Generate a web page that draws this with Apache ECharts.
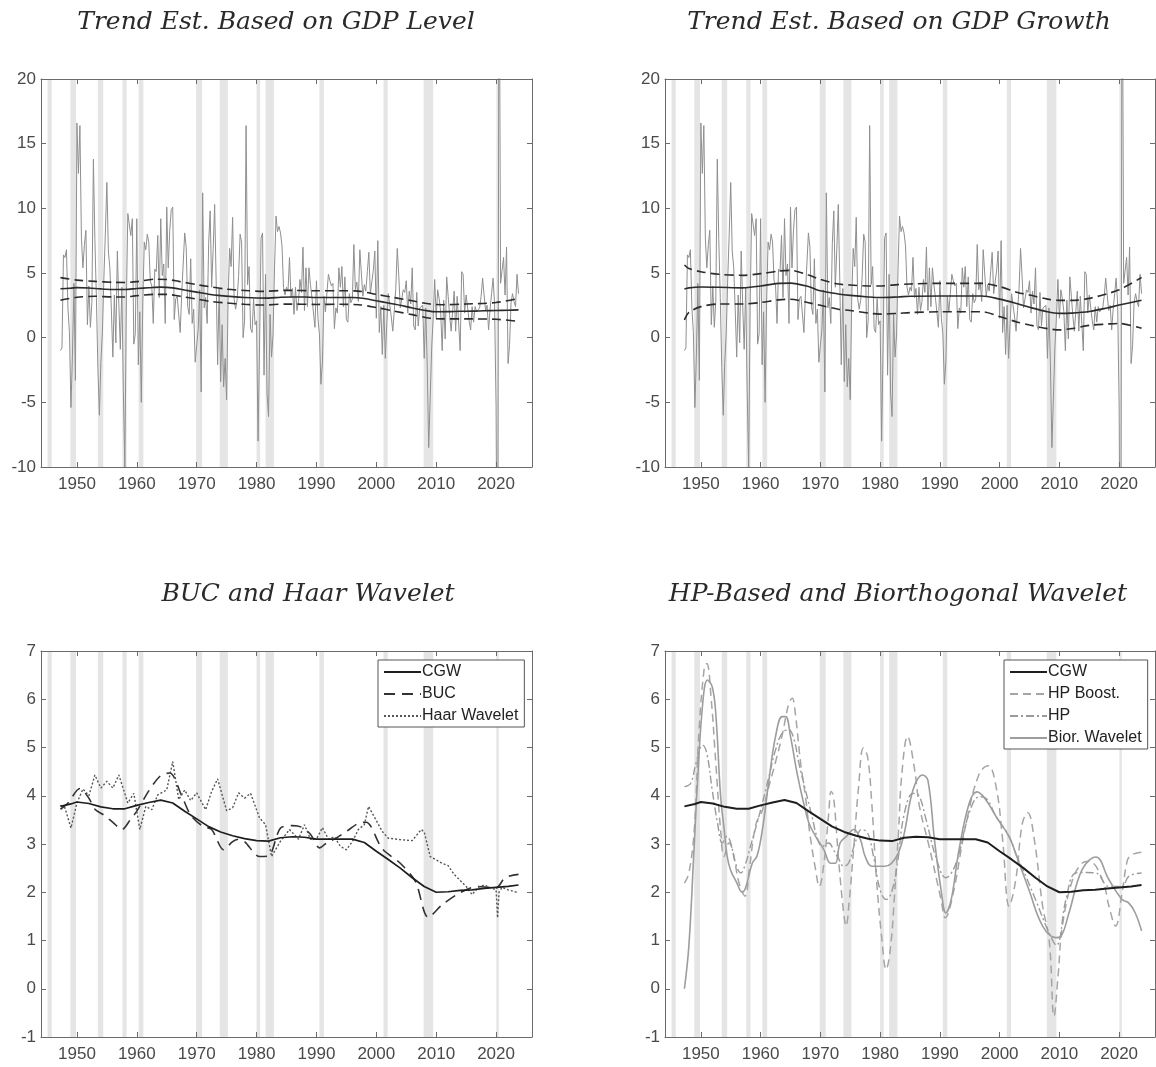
<!DOCTYPE html>
<html>
<head>
<meta charset="utf-8">
<script src="https://cdn.jsdelivr.net/npm/echarts@6/dist/echarts.min.js"></script>
<style>
  html, body { margin: 0; padding: 0; background: #fff; }
  #chart { width: 1156px; height: 1067px; }
</style>
</head>
<body>
<div id="chart"></div>
<script>
// ---- Real GDP growth, quarterly, annualised (%), 1947Q2 .. 2023Q4 ----
const gdpStart = 1947.25;
const gdpGrowth = [
  -1.0, -0.8, 6.4,
  6.2, 6.8, 2.3, 0.4,
  -5.4, -1.4, 4.2, -3.3,
  16.6, 12.7, 16.4, 7.7,
  5.4, 7.2, 8.3, 1.0,
  4.0, 0.8, 2.8, 13.8,
  7.6, 3.1, -2.3, -6.0,
  -1.9, 0.4, 4.6, 8.1,
  12.0, 6.7, 5.4, 2.2,
  -1.5, 3.3, -0.4, 6.7,
  2.6, -0.9, 3.9, -4.1,
  -10.0, 2.6, 9.6, 9.5,
  7.9, 9.2, -0.5, 0.3,
  9.2, -2.1, 2.0, -5.0,
  2.7, 7.4, 6.8, 8.0,
  7.4, 4.4, 4.0, 1.1,
  5.3, 5.1, 7.9, 3.1,
  9.2, 4.8, 5.7, 1.1,
  10.1, 5.4, 8.3, 9.9,
  10.1, 1.4, 3.0, 3.2,
  3.3, 0.4, 3.4, 3.3,
  8.1, 7.0, 2.4, 1.8,
  6.1, 1.1, 2.2, -1.9,
  -0.6, 0.6, 3.7, -4.2,
  11.2, 2.3, 3.1, 1.1,
  7.3, 9.8, 3.9, 6.8,
  10.3, 4.4, -2.1, 3.8,
  -3.4, 1.0, -3.8, -1.6,
  -4.8, 3.1, 6.9, 5.5,
  9.3, 3.0, 2.2, 2.9,
  4.8, 8.0, 7.4, 0.0,
  1.3, 16.4, 4.1, 5.5,
  0.7, 0.4, 3.0, 1.0,
  1.3, -8.0, -0.5, 7.7,
  8.1, -2.9, 4.9, -4.3,
  -6.1, 1.8, -1.5, 0.2,
  5.4, 9.4, 8.2, 8.6,
  8.1, 7.1, 3.9, 3.3,
  3.9, 3.6, 6.2, 3.1,
  3.8, 1.8, 3.9, 2.1,
  2.8, 4.5, 3.5, 7.0,
  2.1, 5.4, 2.4, 5.4,
  4.1, 3.1, 3.0, 0.8,
  4.4, 1.5, 0.3, -3.6,
  -1.9, 3.2, 2.0, 1.9,
  4.9, 4.4, 4.0, 4.2,
  0.7, 2.3, 1.9, 5.4,
  3.9, 5.5, 2.4, 4.7,
  1.4, 1.2, 3.4, 2.7,
  3.0, 7.2, 3.7, 4.3,
  2.8, 6.8, 5.0, 3.2,
  4.1, 3.6, 5.1, 6.6,
  3.4, 3.3, 5.2, 6.7,
  1.5, 7.5, 0.4, 2.4,
  -1.3, 2.5, -1.6, 1.1,
  3.4, 2.5, 1.6, 0.5,
  2.1, 3.8, 6.9, 4.8,
  2.3, 3.0, 3.7, 3.5,
  4.4, 1.9, 3.6, 2.6,
  5.4, 0.9, 0.6, 3.5,
  0.9, 2.3, 2.2, 2.5,
  -1.6, 2.3, -2.1, -8.5,
  -4.6, -0.7, 1.5, 4.5,
  1.5, 3.7, 3.0, 2.0,
  -1.0, 2.9, -0.1, 4.7,
  3.2, 1.7, 0.5, 0.5,
  3.6, 0.5, 3.2, 3.2,
  -1.0, 5.1, 4.9, 1.9,
  3.3, 2.3, 1.3, 0.6,
  2.4, 1.2, 2.4, 2.0,
  2.0, 2.3, 3.2, 4.6,
  3.3, 2.1, 2.5, 0.6,
  2.2, 3.4, 4.6, 2.6,
  -5.3, -28.0, 34.8, 4.2,
  5.2, 6.2, 3.3, 7.0,
  -2.0, -0.6, 2.7, 3.4,
  2.8, 2.4, 4.9, 3.4
];

// ---- NBER recession periods (decimal years) ----
const recessionStart = [1945.1, 1948.9, 1953.5, 1957.6, 1960.3, 1969.9, 1973.85, 1980.0, 1981.5, 1990.5, 2001.2, 2007.9, 2020.05];
const recessionEnd   = [1945.8, 1949.85, 1954.4, 1958.3, 1961.1, 1970.9, 1975.2, 1980.6, 1982.9, 1991.25, 2001.9, 2009.5, 2020.45];

// ---- CGW trend (level-based) ----
const cgwYears = [1947.25, 1949, 1950, 1952, 1954, 1956, 1958, 1960, 1962, 1964, 1966, 1968, 1970, 1972, 1974, 1976, 1978, 1980, 1982, 1984, 1986, 1988, 1990, 1992, 1994, 1996, 1998, 2000, 2002, 2004, 2006, 2008, 2010, 2012, 2014, 2016, 2018, 2020, 2022, 2023.75];
const cgwTrend = [3.78, 3.83, 3.87, 3.84, 3.77, 3.73, 3.73, 3.8, 3.86, 3.91, 3.85, 3.68, 3.52, 3.36, 3.25, 3.17, 3.11, 3.07, 3.06, 3.13, 3.15, 3.14, 3.1, 3.1, 3.1, 3.1, 3.03, 2.85, 2.68, 2.5, 2.3, 2.12, 2.0, 2.01, 2.04, 2.05, 2.08, 2.1, 2.12, 2.15];

// ---- Confidence bands, level-based estimate ----
const levelBandYears = [1947.25, 1950, 1953, 1956, 1958, 1960, 1963, 1965, 1967, 1970, 1972, 1975, 1978, 1981, 1985, 1990, 1994, 1997, 2000, 2003, 2006, 2009, 2011, 2015, 2020, 2023.75];
const levelUpper = [4.64, 4.45, 4.35, 4.28, 4.27, 4.33, 4.52, 4.5, 4.35, 4.1, 3.95, 3.75, 3.65, 3.58, 3.66, 3.63, 3.63, 3.6, 3.35, 3.1, 2.85, 2.6, 2.55, 2.6, 2.72, 3.02];
const levelLower = [2.9, 3.12, 3.2, 3.15, 3.15, 3.25, 3.35, 3.35, 3.22, 2.98, 2.82, 2.68, 2.58, 2.52, 2.6, 2.57, 2.58, 2.55, 2.33, 2.05, 1.78, 1.5, 1.45, 1.45, 1.42, 1.26];

// ---- Growth-based trend and bands ----
const growthYears = [1947.25, 1948, 1950, 1953, 1957, 1960, 1963, 1965, 1968, 1970, 1973, 1975, 1978, 1980, 1983, 1985, 1990, 1997, 2000, 2003, 2005, 2008, 2010, 2012, 2015, 2018, 2020, 2023.75];
const growthTrend = [3.76, 3.85, 3.92, 3.9, 3.85, 4.0, 4.2, 4.22, 3.95, 3.62, 3.38, 3.27, 3.15, 3.1, 3.15, 3.2, 3.22, 3.22, 2.98, 2.62, 2.35, 2.0, 1.88, 1.9, 2.02, 2.3, 2.52, 2.9];
const growthUpper = [5.62, 5.35, 5.1, 4.9, 4.82, 4.95, 5.15, 5.2, 4.85, 4.5, 4.15, 4.07, 4.0, 4.0, 4.1, 4.15, 4.2, 4.2, 3.95, 3.5, 3.3, 2.98, 2.88, 2.88, 3.04, 3.4, 3.7, 4.65];
const growthLower = [1.37, 1.95, 2.4, 2.6, 2.6, 2.72, 2.92, 2.97, 2.7, 2.5, 2.2, 2.1, 1.9, 1.82, 1.88, 1.94, 2.0, 2.0, 1.63, 1.2, 0.98, 0.7, 0.6, 0.7, 0.95, 1.05, 1.1, 0.72];

// ---- BUC ----
const bucYears = [1947.25, 1948.5, 1950.5, 1952, 1953, 1954.5, 1956, 1957.5, 1959, 1960, 1962, 1964, 1965.5, 1967.5, 1969, 1971, 1972.5, 1974.5, 1976, 1977, 1978, 1980.5, 1982, 1984, 1986, 1987.5, 1989, 1990.5, 1992, 1993, 1995, 1997, 1998.3, 2001, 2004, 2006.5, 2008.7, 2011, 2014, 2017, 2020, 2021.5, 2023.75];
const bucTrend = [3.72, 3.85, 4.15, 3.95, 3.72, 3.6, 3.45, 3.3, 3.52, 3.68, 4.1, 4.42, 4.47, 4.0, 3.6, 3.37, 3.3, 2.88, 3.05, 3.1, 3.05, 2.74, 2.75, 3.33, 3.38, 3.35, 3.2, 2.92, 3.05, 3.1, 3.26, 3.43, 3.45, 2.9, 2.6, 2.23, 1.48, 1.74, 1.99, 2.12, 2.09, 2.3, 2.37];

// ---- Haar wavelet ----
const haarYears = [1947.25, 1948, 1949, 1950, 1951, 1952, 1953, 1954, 1955, 1956, 1957, 1958.5, 1959.5, 1960.5, 1961.5, 1962.5, 1963.5, 1965, 1966, 1967, 1968, 1969, 1970, 1971.5, 1972.5, 1973.5, 1975, 1976, 1977, 1978, 1979, 1980.5, 1981.5, 1982.5, 1984, 1985.5, 1987, 1988, 1989, 1990, 1991, 1992, 1993, 1994, 1995, 1996, 1997, 1998, 1998.7, 1999.5, 2001, 2002, 2004, 2006, 2007.5, 2008, 2009, 2011, 2012, 2013, 2015, 2016, 2017, 2018, 2019, 2020, 2020.25, 2020.5, 2021, 2022, 2023.75];
const haarTrend = [3.8, 3.75, 3.33, 3.85, 4.14, 4.0, 4.43, 4.16, 4.3, 4.16, 4.43, 3.85, 4.05, 3.3, 3.78, 3.71, 4.02, 4.12, 4.71, 3.92, 4.12, 3.9, 4.06, 3.71, 4.09, 4.35, 3.69, 3.75, 4.06, 3.95, 4.05, 3.54, 3.4, 2.74, 3.06, 3.3, 3.1, 3.4, 3.1, 3.1, 3.34, 3.1, 3.15, 2.95, 2.88, 3.05, 3.3, 3.4, 3.78, 3.6, 3.26, 3.12, 3.09, 3.07, 3.3, 3.25, 2.74, 2.6, 2.55, 2.37, 2.12, 1.95, 2.1, 2.15, 2.1, 2.05, 1.47, 2.0, 2.1, 2.05, 1.99];

// ---- HP boosted ----
const hpBoostYears = [1947.25, 1948, 1948.9, 1949.7, 1950.6, 1951, 1951.7, 1952.5, 1953.3, 1953.9, 1954.7, 1955.3, 1956.4, 1957.4, 1958.1, 1959.2, 1960.3, 1961.4, 1962.5, 1963.6, 1964.7, 1965.3, 1965.8, 1966.7, 1967.5, 1968.3, 1969.2, 1969.8, 1970.6, 1971.4, 1971.8, 1972.2, 1973.1, 1973.9, 1974.3, 1974.8, 1975.6, 1976.4, 1977.2, 1977.9, 1978.6, 1979.4, 1980.3, 1981, 1981.7, 1982.4, 1983.1, 1983.6, 1984.6, 1985.7, 1986.6, 1988.2, 1990.2, 1990.9, 1992.1, 1994.4, 1996.6, 1998.1, 1999.4, 2000.5, 2001.6, 2002.7, 2003.8, 2004.7, 2005.8, 2007.2, 2008.3, 2009.1, 2009.8, 2010.5, 2012.2, 2013.8, 2015, 2017.2, 2018.3, 2019.4, 2020.5, 2021.4, 2022.2, 2023.75];
const hpBoostTrend = [2.19, 2.4, 3.3, 5.37, 6.68, 6.74, 6.05, 4.68, 3.3, 2.74, 3.02, 2.88, 2.19, 1.92, 2.47, 3.4, 3.7, 4.2, 4.7, 5.25, 5.9, 6.02, 5.71, 4.68, 3.99, 3.16, 2.47, 2.12, 2.6, 3.64, 4.09, 3.99, 2.6, 1.57, 1.3, 1.78, 2.95, 4.19, 4.99, 4.81, 3.85, 2.26, 1.02, 0.4, 0.81, 1.92, 3.3, 4.4, 5.23, 4.6, 3.77, 2.95, 1.85, 1.47, 1.9, 3.43, 4.46, 4.62, 4.19, 3.09, 1.71, 2.26, 3.43, 3.65, 3.09, 1.71, 1.0, -0.57, 0.3, 1.3, 2.26, 2.6, 2.64, 2.26, 1.71, 1.3, 1.99, 2.67, 2.78, 2.83];

// ---- HP ----
const hpYears = [1947.25, 1948.3, 1949.2, 1950.3, 1951, 1951.9, 1952.8, 1953.6, 1954.4, 1955, 1955.8, 1956.7, 1957.5, 1958.3, 1959.4, 1960.3, 1961.4, 1962.5, 1963.6, 1964.7, 1965.6, 1966.4, 1967.5, 1968.6, 1969.4, 1970.3, 1971.4, 1972.2, 1973.1, 1973.9, 1974.7, 1975.8, 1976.9, 1977.9, 1978.9, 1980, 1981, 1981.9, 1982.9, 1984, 1985.5, 1986.5, 1987.7, 1989.3, 1991, 1992.7, 1994.9, 1996.6, 1997.7, 1999.4, 2001.6, 2002.7, 2004.4, 2006, 2008.3, 2009.5, 2011.1, 2012.7, 2014.4, 2016.1, 2018.3, 2020.5, 2021.6, 2023.75];
const hpTrend = [4.19, 4.26, 4.68, 5.05, 4.88, 4.12, 3.43, 3.02, 3.16, 3.02, 2.6, 2.4, 2.6, 2.95, 3.43, 3.85, 4.4, 4.95, 5.3, 5.37, 5.16, 4.68, 4.12, 3.57, 3.16, 2.95, 3.02, 2.88, 2.68, 2.54, 2.6, 3.02, 3.3, 3.23, 2.74, 2.05, 1.85, 1.99, 2.6, 3.6, 4.05, 4.0, 3.5, 2.74, 2.3, 2.6, 3.64, 3.98, 3.95, 3.57, 3.15, 2.8, 2.33, 1.85, 1.15, 0.9, 1.85, 2.4, 2.41, 2.4, 2.12, 2.12, 2.33, 2.4];

// ---- Biorthogonal wavelet ----
const biorYears = [1947.25, 1948, 1948.9, 1949.4, 1950.3, 1951.1, 1951.9, 1952.5, 1953.3, 1953.9, 1954.4, 1955, 1956, 1956.9, 1957.5, 1958.6, 1959.4, 1960.3, 1961.4, 1962.5, 1963.6, 1964.2, 1965, 1966.1, 1967.2, 1968.1, 1969.2, 1970.6, 1971.7, 1972.5, 1973.3, 1974.3, 1975.6, 1976.7, 1977.5, 1978.6, 1979.7, 1980.8, 1981.9, 1983, 1984, 1985.5, 1987.1, 1988, 1989.1, 1990.2, 1991, 1991.9, 1993.2, 1994.9, 1996.2, 1997.5, 1999.4, 2001.6, 2002.7, 2004.9, 2007.2, 2009.4, 2010.2, 2011.6, 2013.8, 2016.1, 2018.3, 2020.5, 2021.6, 2022.7, 2023.75];
const biorTrend = [0.0, 0.9, 3.0, 4.2, 5.9, 6.4, 6.26, 5.7, 4.0, 3.3, 2.75, 2.45, 2.2, 2.0, 2.1, 2.6, 2.75, 3.3, 4.33, 5.23, 5.64, 5.64, 5.23, 4.47, 3.85, 3.43, 3.16, 2.88, 2.6, 2.6, 3.02, 3.15, 3.3, 3.09, 2.74, 2.54, 2.54, 2.54, 2.6, 2.8, 3.2, 4.12, 4.43, 4.32, 3.08, 2.05, 1.57, 1.85, 2.88, 3.84, 4.08, 3.95, 3.57, 3.15, 2.8, 2.05, 1.3, 1.06, 1.08, 1.57, 2.47, 2.73, 2.26, 1.85, 1.78, 1.57, 1.2];

const xTicks = [1950, 1960, 1970, 1980, 1990, 2000, 2010, 2020];

// ---- helpers ----
const zip = (xs, ys) => xs.map((x, i) => [x, ys[i]]);
const gdpPoints = gdpGrowth.map((v, i) => [gdpStart + i * 0.25, v]);

const AXIS = '#6b6b6b';
const LABEL = '#4a4a4a';
const SANS = '"Liberation Sans", Arial, Helvetica, sans-serif';
const SERIF = '"DejaVu Serif", serif';

const grids = [
  { left: 41,  top: 79,  width: 491, height: 388 },
  { left: 665, top: 79,  width: 490, height: 388 },
  { left: 41,  top: 651, width: 491, height: 386 },
  { left: 665, top: 651, width: 490, height: 386 }
];
const yRanges = [[-10, 20, 5], [-10, 20, 5], [-1, 7, 1], [-1, 7, 1]];

const xAxes = [];
const yAxes = [];
grids.forEach((g, gi) => {
  ['bottom', 'top'].forEach(pos => {
    xAxes.push({
      type: 'value', gridIndex: gi, position: pos, min: 1944, max: 2026, z: 5,
      axisLine: { show: true, onZero: false, lineStyle: { color: AXIS, width: 1 } },
      axisTick: { show: true, inside: true, length: 5, customValues: xTicks, lineStyle: { color: AXIS } },
      axisLabel: {
        show: pos === 'bottom', customValues: xTicks, color: LABEL, fontSize: 17, fontFamily: SANS, margin: 9,
        formatter: v => String(v)
      },
      splitLine: { show: false }
    });
  });
  const [ymin, ymax, step] = yRanges[gi];
  ['left', 'right'].forEach(pos => {
    yAxes.push({
      type: 'value', gridIndex: gi, position: pos, min: ymin, max: ymax, interval: step, z: 5,
      axisLine: { show: true, onZero: false, lineStyle: { color: AXIS, width: 1 } },
      axisTick: { show: true, inside: true, length: 5, lineStyle: { color: AXIS } },
      axisLabel: { show: pos === 'left', color: LABEL, fontSize: 17, fontFamily: SANS, margin: 5, formatter: v => String(v) },
      splitLine: { show: false }
    });
  });
});

const series = [];
const line = (gi, name, data, style, extra) => Object.assign({
  type: 'line', name, data, xAxisIndex: gi * 2, yAxisIndex: gi * 2,
  symbol: 'none', silent: true, animation: false, clip: true, z: 3,
  lineStyle: style, itemStyle: { color: style.color }
}, extra || {});

// recession shading in every panel
grids.forEach((g, gi) => {
  series.push({
    type: 'line', name: 'recessions' + gi, data: [], xAxisIndex: gi * 2, yAxisIndex: gi * 2,
    symbol: 'none', silent: true, animation: false, z: 1,
    markArea: {
      silent: true,
      itemStyle: { color: '#e5e5e5' },
      data: recessionStart.map((s, i) => [{ xAxis: s }, { xAxis: recessionEnd[i] }])
    }
  });
});

const gdpStyle = { color: '#8f8f8f', width: 1 };
const trendSolid = { color: '#2b2b2b', width: 1.6 };
const trendDash = { color: '#2b2b2b', width: 1.6, type: [9, 5] };

// Panel 1: level-based trend
series.push(line(0, 'GDP growth', gdpPoints, gdpStyle));
series.push(line(0, 'Trend', zip(cgwYears, cgwTrend), trendSolid, { smooth: 0.3, z: 4 }));
series.push(line(0, 'Upper', zip(levelBandYears, levelUpper), trendDash, { smooth: 0.3, z: 4 }));
series.push(line(0, 'Lower', zip(levelBandYears, levelLower), trendDash, { smooth: 0.3, z: 4 }));

// Panel 2: growth-based trend
series.push(line(1, 'GDP growth', gdpPoints, gdpStyle));
series.push(line(1, 'Trend', zip(growthYears, growthTrend), trendSolid, { smooth: 0.3, z: 4 }));
series.push(line(1, 'Upper', zip(growthYears, growthUpper), trendDash, { smooth: 0.3, z: 4 }));
series.push(line(1, 'Lower', zip(growthYears, growthLower), trendDash, { smooth: 0.3, z: 4 }));

// Panel 3: BUC and Haar wavelet
series.push(line(2, 'CGW', zip(cgwYears, cgwTrend), { color: '#1e1e1e', width: 1.7 }, { z: 5 }));
series.push(line(2, 'BUC', zip(bucYears, bucTrend), { color: '#333333', width: 1.6, type: [11, 7] }, { smooth: 0.3, z: 4 }));
series.push(line(2, 'Haar Wavelet', zip(haarYears, haarTrend), { color: '#555555', width: 1.4, type: [2, 2] }, { z: 4 }));

// Panel 4: HP-based and biorthogonal wavelet
series.push(line(3, 'HP Boost.', zip(hpBoostYears, hpBoostTrend), { color: '#a5a5a5', width: 1.5, type: [8, 5] }, { smooth: 0.4 }));
series.push(line(3, 'HP', zip(hpYears, hpTrend), { color: '#9b9b9b', width: 1.4, type: [8, 3, 2, 3] }, { smooth: 0.4 }));
series.push(line(3, 'Bior. Wavelet', zip(biorYears, biorTrend), { color: '#9d9d9d', width: 1.6 }, { smooth: 0.4 }));
series.push(line(3, 'CGW', zip(cgwYears, cgwTrend), { color: '#1e1e1e', width: 2 }, { z: 5 }));

const legendBase = {
  orient: 'vertical', itemWidth: 37, itemHeight: 14, itemGap: 6,
  padding: [4, 6, 3, 5], borderColor: '#555', borderWidth: 1, backgroundColor: '#fff',
  selectedMode: false, itemStyle: { opacity: 0 },
  textStyle: { fontSize: 16, color: '#222', fontFamily: SANS, padding: [0, 0, 0, -4] },
  z: 10
};

const titleStyle = (text, x, y) => ({
  type: 'text', x, y, z: 10,
  style: { text, align: 'center', verticalAlign: 'middle', fontFamily: SERIF, fontStyle: 'italic', fontSize: 25, fill: '#2a2a2a' }
});

const chart = echarts.init(document.getElementById('chart'), null, { renderer: 'canvas' });
chart.setOption({
  backgroundColor: '#ffffff',
  animation: false,
  grid: grids,
  xAxis: xAxes,
  yAxis: yAxes,
  legend: [
    Object.assign({}, legendBase, { data: ['CGW', 'BUC', 'Haar Wavelet'], left: 378, top: 660 }),
    Object.assign({}, legendBase, { data: ['CGW', 'HP Boost.', 'HP', 'Bior. Wavelet'], left: 1004, top: 660 })
  ],
  graphic: [
    titleStyle('Trend Est. Based on GDP Level', 276, 22),
    titleStyle('Trend Est. Based on GDP Growth', 899, 22),
    titleStyle('BUC and Haar Wavelet', 308, 594),
    titleStyle('HP-Based and Biorthogonal Wavelet', 898, 594)
  ],
  series
});
</script>
</body>
</html>
